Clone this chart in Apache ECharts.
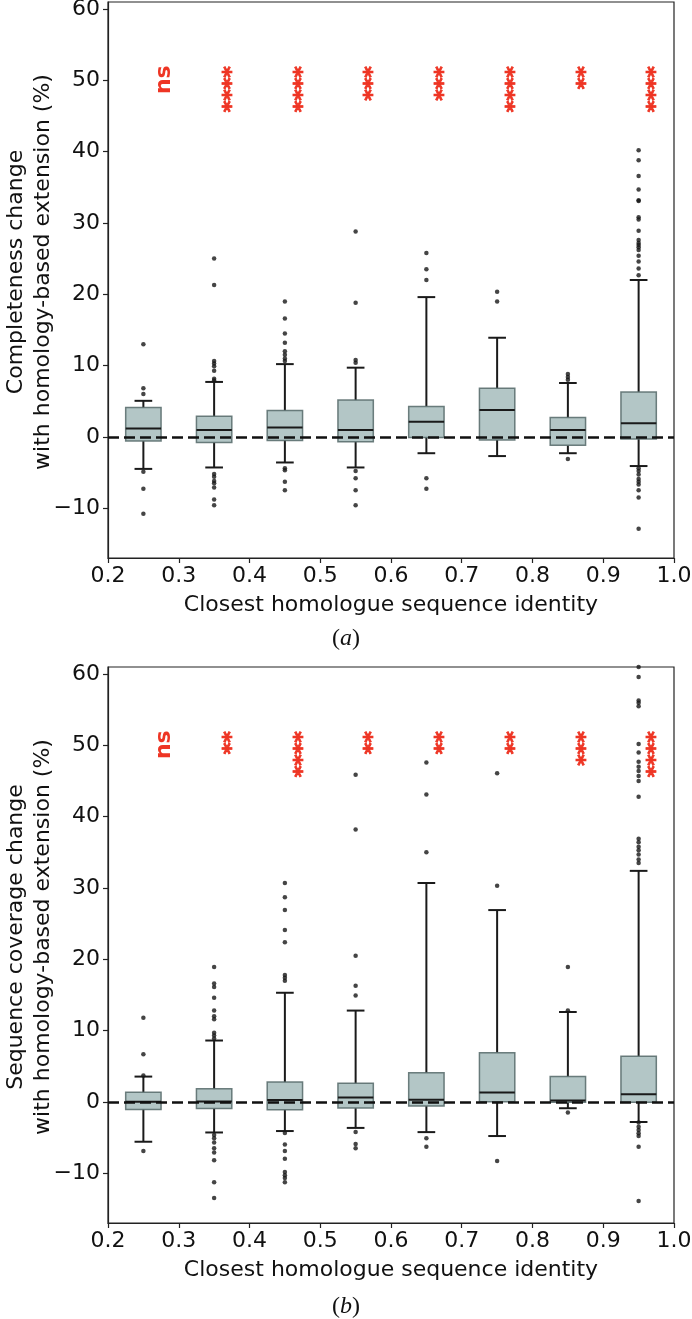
<!DOCTYPE html>
<html><head><meta charset="utf-8">
<script src="https://cdn.jsdelivr.net/npm/echarts@6/dist/echarts.min.js"></script>
<style>html,body{margin:0;padding:0;background:#fff}#c{width:692px;height:1319px}</style>
</head><body><div id="c"></div>
<script>
// ---------- data ----------
const xCenters = [0.25, 0.35, 0.45, 0.55, 0.65, 0.75, 0.85, 0.95];
const yTicks = [-10, 0, 10, 20, 30, 40, 50, 60];

// (a) completeness change
const aLow  = [-4.5, -4.3, -3.6, -4.3, -2.3, -2.7, -2.3, -4.1];
const aQ1   = [-0.6, -0.8, -0.5, -0.7, -0.1, -0.45, -1.2, -0.3];
const aMed  = [1.16, 0.95, 1.3, 0.95, 2.1, 3.77, 0.95, 1.9];
const aQ3   = [4.1, 2.9, 3.7, 5.15, 4.27, 6.8, 2.7, 6.3];
const aHigh = [5.05, 7.7, 10.2, 9.7, 19.6, 13.9, 7.55, 22.0];
const aOut = [
  [13.0, 6.8, 6.0, -4.9, -7.3, -10.8],
  [25.0, 21.3, 10.65, 10.3, 9.9, 9.27, 8.15, 7.9, -5.2, -5.6, -6.2, -6.5, -7.1, -8.8, -9.6],
  [19.0, 16.6, 14.5, 13.2, 12.0, 11.5, 11.0, 10.65, -4.4, -4.7, -6.3, -7.5],
  [28.8, 18.8, 10.76, 10.4, -4.8, -5.8, -7.5, -9.6],
  [25.8, 23.5, 22.0, -5.8, -7.3],
  [20.35, 19.0],
  [8.8, 8.4, 8.0, -3.1],
  [40.2, 38.8, 36.6, 34.7, 33.2, 33.1, 30.8, 30.5, 28.9, 27.6, 27.2, 26.9, 26.6, 26.2, 25.4, 24.6, 23.6, 22.65,
   -4.4, -4.8, -5.3, -5.9, -6.3, -6.7, -7.5, -8.5, -12.9]
];
const aSig = ['ns', '****', '****', '***', '***', '****', '**', '****'];

// (b) sequence coverage change
const bLow  = [-5.6, -4.3, -4.1, -3.66, -4.25, -4.8, -0.9, -2.83];
const bQ1   = [-1.06, -0.94, -1.12, -0.88, -0.6, 0.0, -0.05, -0.05];
const bMed  = [0.0, 0.05, 0.24, 0.59, 0.3, 1.3, 0.18, 1.06];
const bQ3   = [1.36, 1.83, 2.77, 2.6, 4.07, 6.9, 3.54, 6.4];
const bHigh = [3.54, 8.6, 15.3, 12.8, 30.7, 26.9, 12.6, 32.4];
const bOut = [
  [11.8, 6.67, 3.7, -6.9],
  [18.9, 16.6, 16.1, 14.6, 12.8, 12.0, 11.6, 9.7, 9.3, 8.9, -4.66, -5.1, -5.7, -6.5, -7.1, -8.2, -11.3, -13.5],
  [30.7, 28.7, 26.9, 24.1, 22.4, 17.8, 17.4, 17.0, -4.37, -6.0, -6.9, -8.0, -9.85, -10.3, -10.7, -11.3],
  [45.9, 38.2, 20.5, 16.3, 14.9, -4.25, -5.9, -6.5],
  [47.6, 43.1, 35.0, -5.1, -6.3],
  [46.1, 30.3, -8.3],
  [18.9, 12.8, -1.5],
  [61.0, 59.6, 56.3, 56.0, 55.5, 50.2, 49.0, 47.7, 47.0, 46.4, 45.7, 45.0, 42.8,
   36.9, 36.4, 35.8, 35.3, 34.7, 34.0, 33.5, -2.9, -3.5, -3.95, -4.4, -4.8, -6.3, -13.9]
];
const bSig = ['ns', '**', '****', '**', '**', '**', '***', '****'];

const xName = 'Closest homologue sequence identity';
const aYName = 'Completeness change\nwith homology-based extension (%)';
const bYName = 'Sequence coverage change\nwith homology-based extension (%)';

// ---------- build ----------
const FONT = '"DejaVu Sans", sans-serif';
const INK = '#1a1a1a';
const RED = '#ee3524';

function boxRows(lo, q1, md, q3, hi) {
  return xCenters.map((x, i) => [x, lo[i], q1[i], md[i], q3[i], hi[i]]);
}
function outRows(out) {
  const r = [];
  out.forEach((arr, i) => arr.forEach(v => r.push([xCenters[i], v])));
  return r;
}
function sigRows(sig) {
  return sig.map((s, i) => s === 'ns' ? [xCenters[i] + 0.029, 50.1] : [xCenters[i] + 0.02, 52.0]);
}

function boxRender(params, api) {
  const x = api.value(0);
  const lo = api.coord([x, api.value(1)]);
  const q1 = api.coord([x, api.value(2)]);
  const md = api.coord([x, api.value(3)]);
  const q3 = api.coord([x, api.value(4)]);
  const hi = api.coord([x, api.value(5)]);
  const w = api.size([0.05, 0])[0];
  const hw = w / 2, cw = w / 4, cx = md[0];
  const ls = { stroke: INK, lineWidth: 2 };
  return { type: 'group', children: [
    { type: 'line', shape: { x1: cx, y1: q1[1], x2: cx, y2: lo[1] }, style: ls },
    { type: 'line', shape: { x1: cx, y1: q3[1], x2: cx, y2: hi[1] }, style: ls },
    { type: 'line', shape: { x1: cx - cw, y1: lo[1], x2: cx + cw, y2: lo[1] }, style: ls },
    { type: 'line', shape: { x1: cx - cw, y1: hi[1], x2: cx + cw, y2: hi[1] }, style: ls },
    { type: 'rect', shape: { x: cx - hw, y: q3[1], width: w, height: q1[1] - q3[1] },
      style: { fill: 'rgba(128,160,160,0.6)', stroke: 'rgba(85,105,105,0.85)', lineWidth: 1.5 } },
    { type: 'line', shape: { x1: cx - hw, y1: md[1], x2: cx + hw, y2: md[1] }, style: ls }
  ]};
}

function sigRenderFor(sig) {
  return function (params, api) {
    const p = api.coord([api.value(0), api.value(1)]);
    const s = sig[params.dataIndex];
    const isNs = s === 'ns';
    const st = { text: s, fill: RED, font: 'bold 22px ' + FONT,
      align: isNs ? 'center' : 'right', verticalAlign: 'middle' };
    if (!isNs) { st.stroke = RED; st.lineWidth = 0.9; }
    return { type: 'text', x: p[0] + (isNs ? 0 : 4), y: p[1], rotation: Math.PI / 2, style: st };
  };
}

function fmtY(v) { return v < 0 ? '\u2212' + Math.abs(v) : String(v); }

function xAxisFor(gi) {
  return { type: 'value', gridIndex: gi, min: 0.2, max: 1.0, interval: 0.1,
    axisLine: { show: true, onZero: false, lineStyle: { color: '#222', width: 1.2 } },
    axisTick: { show: true, length: 5, lineStyle: { color: '#222', width: 1.2 } },
    axisLabel: { fontSize: 22, fontFamily: FONT, color: '#111', margin: 7, formatter: v => v.toFixed(1) },
    splitLine: { show: false },
    name: xName, nameLocation: 'middle', nameGap: 47, nameMoveOverlap: false,
    nameTextStyle: { fontSize: 22, fontFamily: FONT, color: '#111', verticalAlign: 'middle' } };
}
function yAxisFor(gi, name) {
  return { type: 'value', gridIndex: gi, min: -17, max: 61, splitNumber: 8,
    axisLine: { show: true, onZero: false, lineStyle: { color: '#222', width: 1.2 } },
    axisTick: { show: true, length: 5, customValues: yTicks, lineStyle: { color: '#222', width: 1.2 } },
    axisLabel: { fontSize: 22, fontFamily: FONT, color: '#111', margin: 8, customValues: yTicks, formatter: fmtY },
    splitLine: { show: false },
    name: name, nameLocation: 'middle', nameRotate: 90, nameGap: 78, nameMoveOverlap: false,
    nameTextStyle: { fontSize: 22, fontFamily: FONT, color: '#111', lineHeight: 27, verticalAlign: 'middle', align: 'center',
      padding: [0, 0, 0, 16] } };
}

function seriesFor(gi, lo, q1, md, q3, hi, out, sig) {
  return [
    { type: 'line', xAxisIndex: gi, yAxisIndex: gi, data: [], z: 1, silent: true,
      markLine: { silent: true, symbol: ['none', 'none'], label: { show: false },
        lineStyle: { color: '#111', width: 2.6, type: [11, 5] }, data: [{ yAxis: 0 }] } },
    { type: 'custom', xAxisIndex: gi, yAxisIndex: gi, z: 2, renderItem: boxRender,
      encode: { x: 0, y: [1, 2, 3, 4, 5] }, data: boxRows(lo, q1, md, q3, hi) },
    { type: 'scatter', xAxisIndex: gi, yAxisIndex: gi, z: 3, symbolSize: 4.5, clip: true,
      itemStyle: { color: '#161616' }, data: outRows(out) },
    { type: 'custom', xAxisIndex: gi, yAxisIndex: gi, z: 4, renderItem: sigRenderFor(sig),
      encode: { x: 0, y: 1 }, data: sigRows(sig) }
  ];
}

const chart = echarts.init(document.getElementById('c'), null, { renderer: 'canvas' });
chart.setOption({
  animation: false,
  backgroundColor: '#fff',
  grid: [
    { left: 108, top: 2, width: 566, height: 556, outerBoundsMode: 'none', containLabel: false,
      show: true, borderColor: '#222', borderWidth: 1.2, backgroundColor: 'transparent' },
    { left: 108, top: 667, width: 566, height: 556, outerBoundsMode: 'none', containLabel: false,
      show: true, borderColor: '#222', borderWidth: 1.2, backgroundColor: 'transparent' }
  ],
  xAxis: [xAxisFor(0), xAxisFor(1)],
  yAxis: [yAxisFor(0, aYName), yAxisFor(1, bYName)],
  series: [].concat(
    seriesFor(0, aLow, aQ1, aMed, aQ3, aHigh, aOut, aSig),
    seriesFor(1, bLow, bQ1, bMed, bQ3, bHigh, bOut, bSig)
  ),
  graphic: [
    { type: 'text', x: 346, y: 639, style: { text: '{p|(}{i|a}{p|)}', align: 'center', verticalAlign: 'middle', fill: '#111',
      rich: { p: { fontSize: 24, fontFamily: '"Liberation Serif", serif' }, i: { fontSize: 24, fontStyle: 'italic', fontFamily: '"Liberation Serif", serif' } } } },
    { type: 'text', x: 346, y: 1307, style: { text: '{p|(}{i|b}{p|)}', align: 'center', verticalAlign: 'middle', fill: '#111',
      rich: { p: { fontSize: 24, fontFamily: '"Liberation Serif", serif' }, i: { fontSize: 24, fontStyle: 'italic', fontFamily: '"Liberation Serif", serif' } } } }
  ]
});
</script></body></html>
